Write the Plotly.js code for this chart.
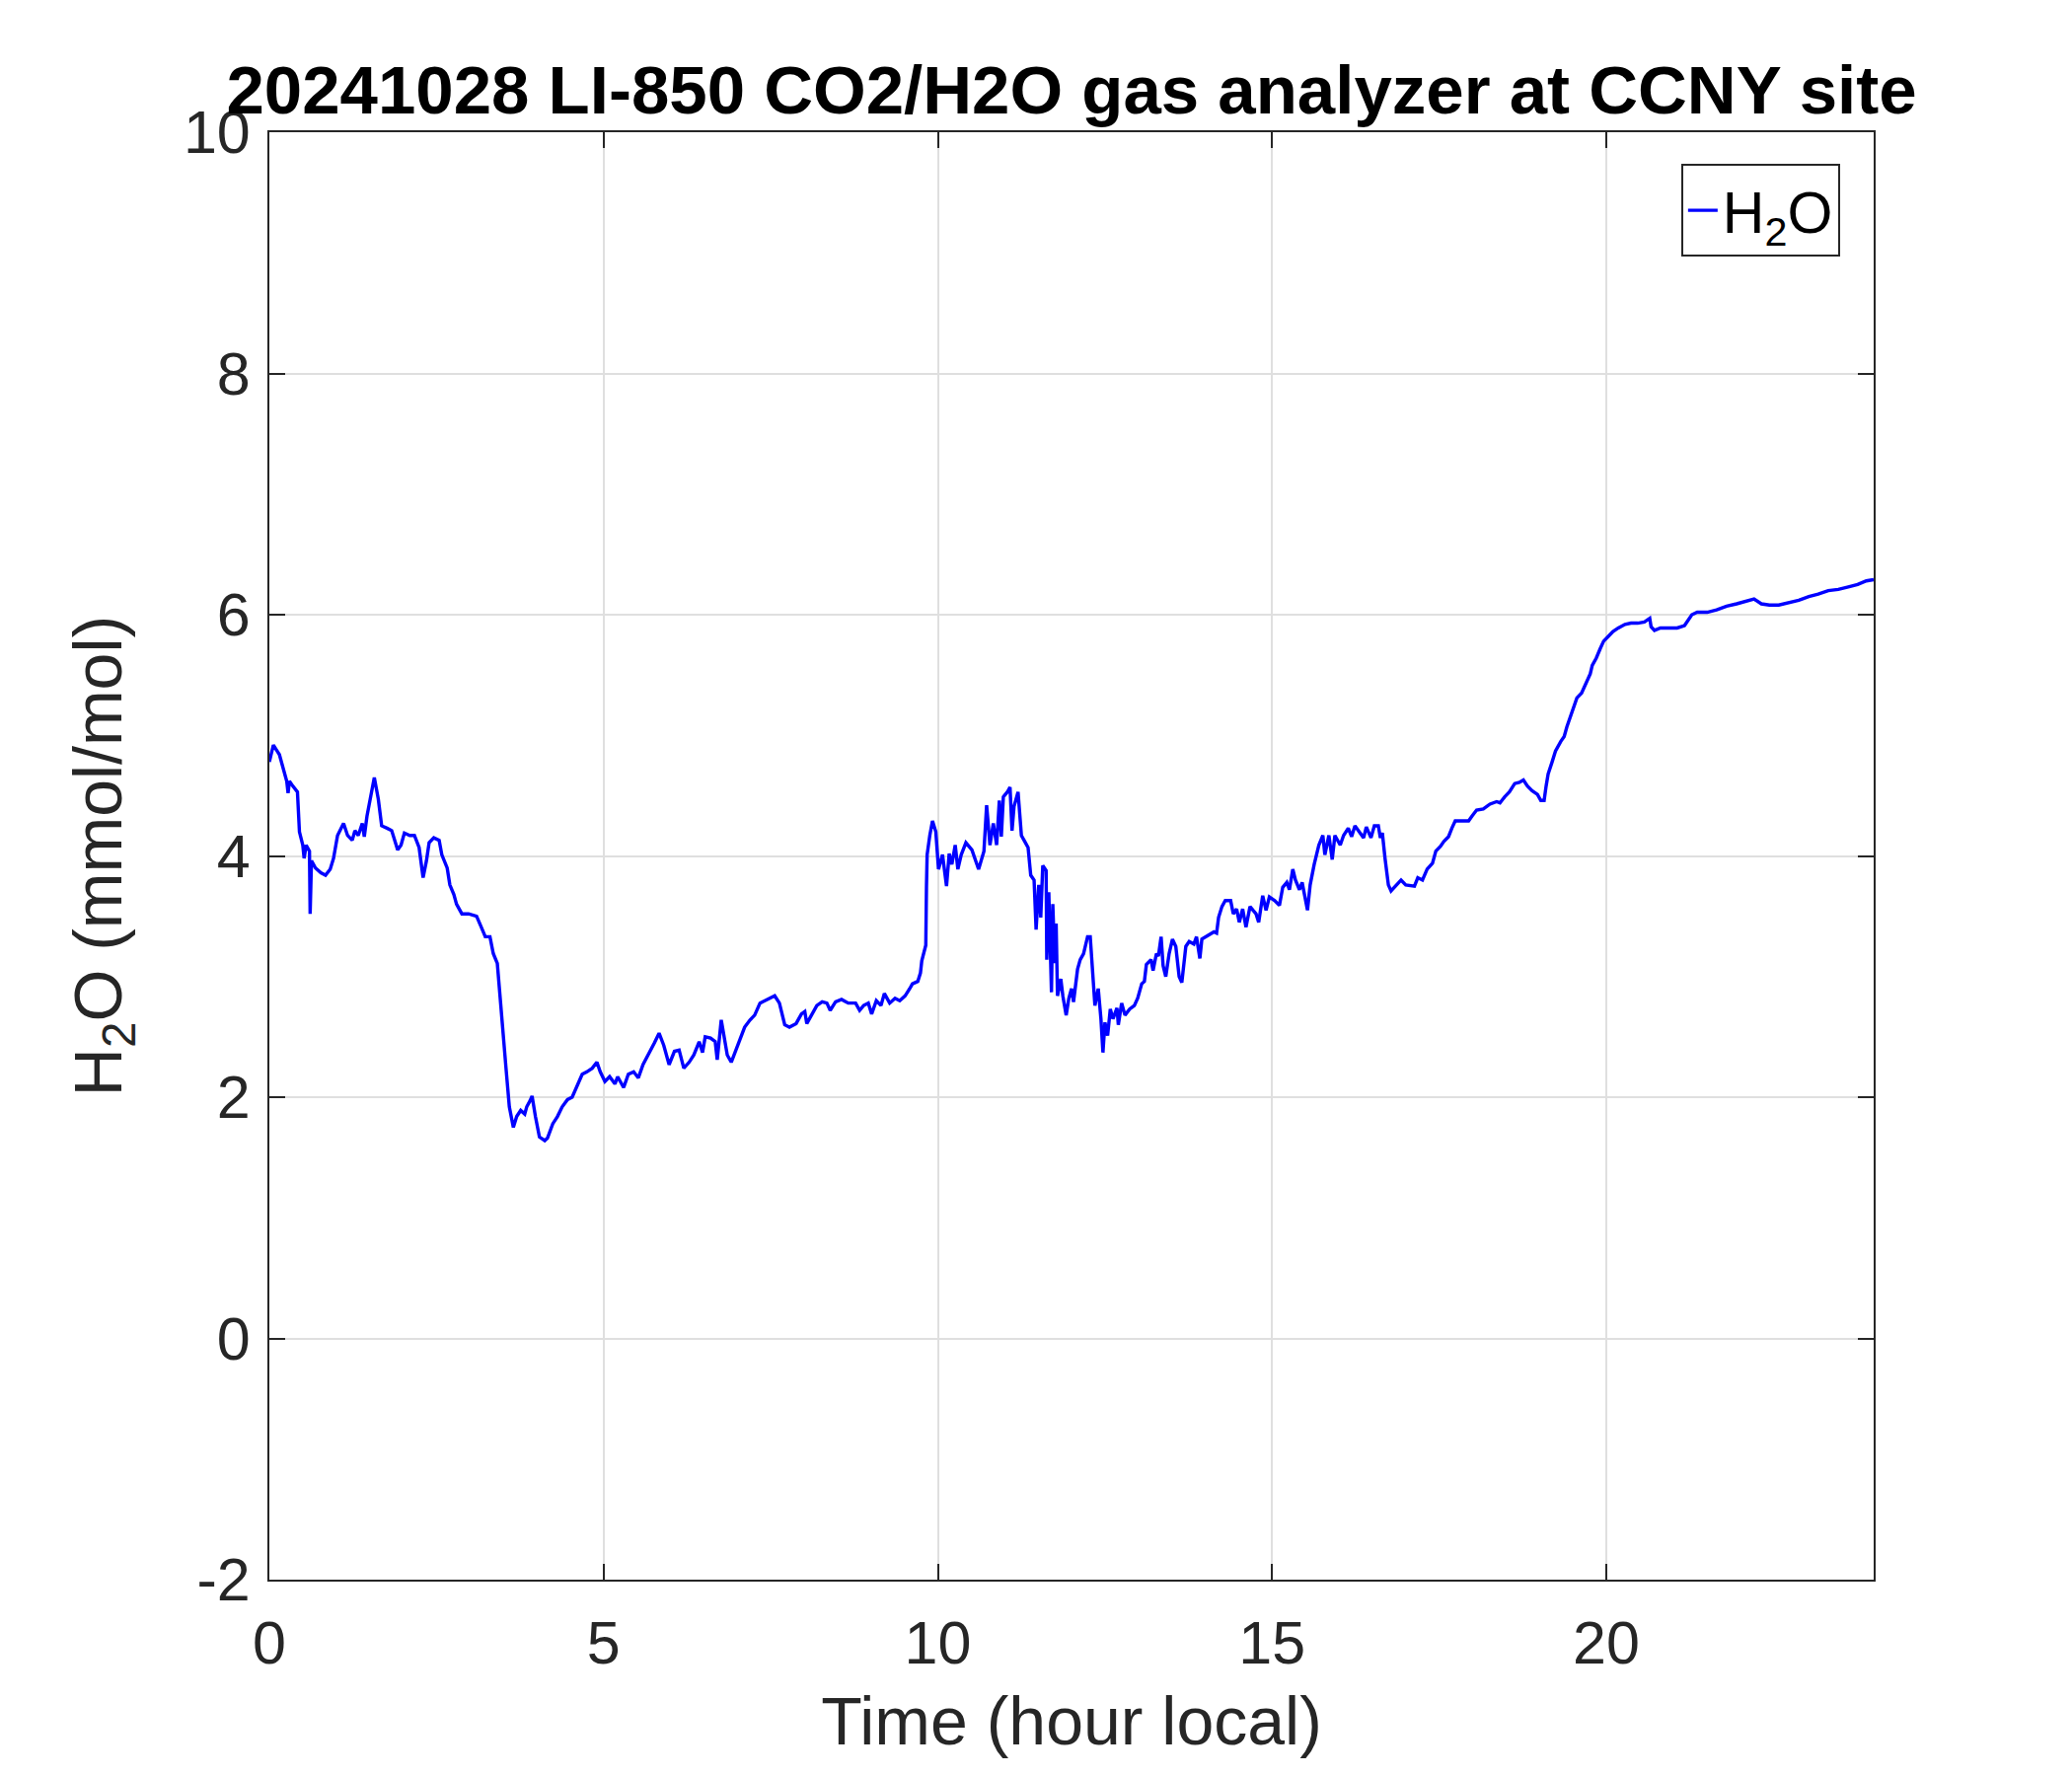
<!DOCTYPE html>
<html>
<head>
<meta charset="utf-8">
<script src="https://cdn.plot.ly/plotly-3.0.1.min.js"></script>
<style>
  html, body { margin: 0; padding: 0; background: #ffffff; }
  #chart { width: 2100px; height: 1800px; }
</style>
</head>
<body>
<div id="chart"></div>
<script>
// Time (hour local)
const timeHours = [
  0.00, 0.06, 0.15, 0.22, 0.26, 0.28, 0.30, 0.35, 0.42, 0.45, 0.50, 0.52, 0.55, 0.60, 0.61, 0.63, 0.69, 0.77, 0.84, 0.91,
  0.96, 1.02, 1.11, 1.17, 1.24, 1.28, 1.33, 1.39, 1.42, 1.46, 1.51, 1.57, 1.63, 1.68, 1.76, 1.83, 1.88, 1.92, 1.97, 2.02,
  2.10, 2.17, 2.24, 2.30, 2.35, 2.39, 2.46, 2.54, 2.58, 2.66, 2.70, 2.76, 2.80, 2.88, 2.98, 3.10, 3.17, 3.23, 3.30, 3.35,
  3.41, 3.45, 3.50, 3.54, 3.59, 3.65, 3.70, 3.76, 3.82, 3.85, 3.90, 3.93, 3.98, 4.04, 4.12, 4.16, 4.24, 4.31, 4.38, 4.46,
  4.53, 4.61, 4.68, 4.75, 4.83, 4.90, 4.95, 5.02, 5.09, 5.17, 5.21, 5.30, 5.37, 5.45, 5.52, 5.59, 5.69, 5.76, 5.83, 5.90,
  5.98, 6.06, 6.13, 6.20, 6.28, 6.35, 6.43, 6.48, 6.52, 6.60, 6.67, 6.70, 6.76, 6.80, 6.85, 6.91, 6.97, 7.04, 7.11, 7.19,
  7.26, 7.34, 7.41, 7.48, 7.56, 7.63, 7.71, 7.78, 7.88, 7.96, 8.01, 8.04, 8.12, 8.19, 8.27, 8.34, 8.39, 8.47, 8.56, 8.66,
  8.77, 8.83, 8.89, 8.96, 9.01, 9.08, 9.15, 9.20, 9.28, 9.36, 9.43, 9.51, 9.58, 9.62, 9.70, 9.74, 9.76, 9.80, 9.82, 9.83,
  9.84, 9.88, 9.92, 9.97, 10.01, 10.07, 10.13, 10.17, 10.21, 10.26, 10.30, 10.35, 10.42, 10.51, 10.55, 10.61, 10.69, 10.73, 10.78, 10.83,
  10.88, 10.92, 10.95, 10.98, 11.04, 11.08, 11.11, 11.14, 11.20, 11.25, 11.29, 11.35, 11.39, 11.44, 11.47, 11.51, 11.54, 11.57, 11.62, 11.63,
  11.66, 11.70, 11.72, 11.75, 11.77, 11.79, 11.84, 11.87, 11.92, 11.96, 12.00, 12.03, 12.09, 12.13, 12.18, 12.24, 12.28, 12.32, 12.35, 12.40,
  12.44, 12.47, 12.50, 12.54, 12.58, 12.62, 12.68, 12.70, 12.75, 12.80, 12.87, 12.94, 12.99, 13.05, 13.09, 13.12, 13.19, 13.22, 13.27, 13.30,
  13.34, 13.37, 13.41, 13.46, 13.51, 13.56, 13.61, 13.65, 13.68, 13.71, 13.76, 13.83, 13.87, 13.92, 13.95, 14.01, 14.08, 14.13, 14.17, 14.20,
  14.25, 14.30, 14.38, 14.42, 14.47, 14.51, 14.56, 14.61, 14.67, 14.72, 14.76, 14.80, 14.86, 14.91, 14.96, 15.04, 15.11, 15.16, 15.22, 15.26,
  15.31, 15.35, 15.41, 15.45, 15.49, 15.53, 15.57, 15.63, 15.70, 15.76, 15.79, 15.85, 15.90, 15.94, 16.02, 16.07, 16.14, 16.19, 16.24, 16.31,
  16.37, 16.41, 16.48, 16.53, 16.59, 16.62, 16.65, 16.69, 16.74, 16.78, 16.86, 16.93, 17.00, 17.08, 17.13, 17.18, 17.25, 17.32, 17.40, 17.45,
  17.52, 17.57, 17.64, 17.69, 17.74, 17.84, 17.94, 17.99, 18.06, 18.16, 18.26, 18.36, 18.41, 18.48, 18.55, 18.63, 18.70, 18.76, 18.82, 18.89,
  18.97, 19.02, 19.07, 19.10, 19.13, 19.19, 19.24, 19.32, 19.37, 19.41, 19.48, 19.56, 19.63, 19.70, 19.76, 19.79, 19.85, 19.91, 19.96, 20.03,
  20.10, 20.18, 20.28, 20.37, 20.47, 20.57, 20.65, 20.67, 20.72, 20.81, 20.89, 20.96, 21.06, 21.17, 21.24, 21.28, 21.36, 21.51, 21.65, 21.80,
  21.95, 22.10, 22.21, 22.32, 22.44, 22.58, 22.73, 22.88, 23.03, 23.17, 23.32, 23.47, 23.62, 23.76, 23.89, 24.00
];

// H2O mole fraction (mmol/mol)
const h2oValues = [
  4.78, 4.92, 4.84, 4.69, 4.62, 4.52, 4.62, 4.58, 4.53, 4.20, 4.09, 3.98, 4.09, 4.04, 3.52, 3.96, 3.90, 3.86, 3.84, 3.89,
  3.98, 4.17, 4.27, 4.17, 4.13, 4.21, 4.17, 4.27, 4.16, 4.33, 4.47, 4.65, 4.47, 4.25, 4.23, 4.21, 4.12, 4.05, 4.09, 4.19,
  4.17, 4.17, 4.07, 3.82, 3.96, 4.11, 4.15, 4.13, 4.01, 3.90, 3.76, 3.68, 3.60, 3.52, 3.52, 3.50, 3.41, 3.33, 3.33, 3.19,
  3.11, 2.82, 2.51, 2.24, 1.92, 1.75, 1.84, 1.89, 1.86, 1.92, 1.97, 2.01, 1.84, 1.67, 1.64, 1.66, 1.78, 1.84, 1.92, 1.98,
  2.00, 2.11, 2.19, 2.21, 2.24, 2.29, 2.21, 2.13, 2.17, 2.11, 2.17, 2.08, 2.19, 2.21, 2.16, 2.27, 2.37, 2.45, 2.53, 2.43,
  2.27, 2.38, 2.39, 2.24, 2.29, 2.35, 2.46, 2.37, 2.50, 2.49, 2.46, 2.31, 2.64, 2.51, 2.35, 2.29, 2.38, 2.49, 2.58, 2.64,
  2.68, 2.78, 2.80, 2.82, 2.84, 2.78, 2.60, 2.58, 2.61, 2.69, 2.71, 2.61, 2.69, 2.76, 2.79, 2.78, 2.72, 2.79, 2.81, 2.78,
  2.78, 2.72, 2.76, 2.78, 2.69, 2.80, 2.76, 2.86, 2.78, 2.82, 2.80, 2.84, 2.90, 2.94, 2.96, 3.03, 3.13, 3.22, 3.26, 3.74,
  4.01, 4.17, 4.29, 4.20, 3.89, 4.01, 3.75, 4.02, 3.93, 4.09, 3.89, 4.01, 4.11, 4.05, 3.98, 3.89, 4.04, 4.42, 4.09, 4.27,
  4.09, 4.46, 4.16, 4.49, 4.53, 4.57, 4.21, 4.41, 4.53, 4.17, 4.13, 4.07, 3.84, 3.80, 3.39, 3.76, 3.49, 3.92, 3.88, 3.14,
  3.70, 2.87, 3.60, 3.11, 3.44, 2.84, 2.98, 2.84, 2.68, 2.82, 2.90, 2.79, 3.06, 3.14, 3.19, 3.33, 3.33, 3.00, 2.76, 2.90,
  2.65, 2.37, 2.62, 2.51, 2.73, 2.65, 2.74, 2.60, 2.78, 2.68, 2.73, 2.76, 2.82, 2.94, 2.96, 3.10, 3.14, 3.05, 3.19, 3.17,
  3.33, 3.09, 3.00, 3.19, 3.31, 3.25, 3.00, 2.95, 3.09, 3.25, 3.29, 3.27, 3.33, 3.15, 3.31, 3.33, 3.35, 3.37, 3.36, 3.49,
  3.58, 3.63, 3.63, 3.52, 3.56, 3.45, 3.56, 3.41, 3.58, 3.55, 3.52, 3.45, 3.67, 3.55, 3.66, 3.63, 3.59, 3.74, 3.78, 3.72,
  3.89, 3.80, 3.72, 3.78, 3.66, 3.55, 3.76, 3.93, 4.09, 4.17, 4.01, 4.17, 3.97, 4.17, 4.09, 4.17, 4.23, 4.16, 4.25, 4.20,
  4.15, 4.24, 4.15, 4.25, 4.25, 4.15, 4.19, 3.98, 3.76, 3.71, 3.76, 3.80, 3.76, 3.75, 3.75, 3.82, 3.80, 3.89, 3.94, 4.04,
  4.08, 4.12, 4.16, 4.23, 4.29, 4.29, 4.29, 4.33, 4.38, 4.39, 4.43, 4.45, 4.44, 4.49, 4.53, 4.60, 4.61, 4.63, 4.58, 4.54,
  4.51, 4.46, 4.46, 4.58, 4.68, 4.78, 4.87, 4.95, 4.99, 5.07, 5.18, 5.31, 5.35, 5.44, 5.51, 5.58, 5.64, 5.72, 5.78, 5.82,
  5.86, 5.89, 5.92, 5.93, 5.93, 5.94, 5.97, 5.90, 5.87, 5.89, 5.89, 5.89, 5.89, 5.91, 5.97, 6.00, 6.02, 6.02, 6.04, 6.07,
  6.09, 6.11, 6.13, 6.09, 6.08, 6.08, 6.10, 6.12, 6.15, 6.17, 6.20, 6.21, 6.23, 6.25, 6.28, 6.29
];

const xTickValues = [0, 5, 10, 15, 20];
const yTickValues = [-2, 0, 2, 4, 6, 8, 10];
const seriesName = 'H<sub>2</sub>O';
const chartTitle = '20241028 LI-850 CO2/H2O gas analyzer at CCNY site';
const xTitle = 'Time (hour local)';
const yTitle = 'H<sub>2</sub>O (mmol/mol)';

const FONT = 'Liberation Sans, Arial, Helvetica, sans-serif';
const AXIS_COLOR = '#262626';
const GRID_COLOR = '#dfdfdf';

const trace = {
  x: timeHours,
  y: h2oValues,
  type: 'scatter',
  mode: 'lines',
  name: seriesName,
  line: { color: '#0000ff', width: 3.4 },
  showlegend: true
};

const commonAxis = {
  showline: true,
  linecolor: AXIS_COLOR,
  linewidth: 2,
  mirror: 'allticks',
  ticks: 'inside',
  ticklen: 16,
  tickwidth: 2,
  tickcolor: AXIS_COLOR,
  showgrid: true,
  gridcolor: GRID_COLOR,
  gridwidth: 2,
  zeroline: false,
  tickfont: { family: FONT, size: 61, color: AXIS_COLOR },
  automargin: false
};

const layout = {
  width: 2100,
  height: 1800,
  paper_bgcolor: '#ffffff',
  plot_bgcolor: '#ffffff',
  margin: { l: 273, r: 201, t: 134, b: 199, pad: 0 },
  font: { family: FONT, color: AXIS_COLOR },
  title: {
    text: '<b>' + chartTitle + '</b>',
    font: { family: FONT, size: 69, color: '#000000' },
    x: 0.5,
    xref: 'paper',
    xanchor: 'center',
    y: 1 - 91 / 1800,
    yref: 'container',
    yanchor: 'middle'
  },
  xaxis: Object.assign({}, commonAxis, {
    range: [0, 24],
    tickmode: 'array',
    tickvals: xTickValues,
    ticktext: xTickValues.map(String),
    ticklabelstandoff: 10,
    title: { text: xTitle, font: { family: FONT, size: 68, color: AXIS_COLOR }, standoff: 22 }
  }),
  yaxis: Object.assign({}, commonAxis, {
    range: [-2, 10],
    tickmode: 'array',
    tickvals: yTickValues,
    ticktext: yTickValues.map(String),
    ticklabelstandoff: 5,
    title: { text: yTitle, font: { family: FONT, size: 68, color: AXIS_COLOR }, standoff: 40 }
  }),
  legend: {
    x: 0.979,
    xanchor: 'right',
    y: 0.978,
    yanchor: 'top',
    bgcolor: '#ffffff',
    bordercolor: AXIS_COLOR,
    borderwidth: 2,
    font: { family: FONT, size: 59, color: '#000000' }
  },
  showlegend: true
};

Plotly.newPlot('chart', [trace], layout, { staticPlot: true, displayModeBar: false });
</script>
</body>
</html>
